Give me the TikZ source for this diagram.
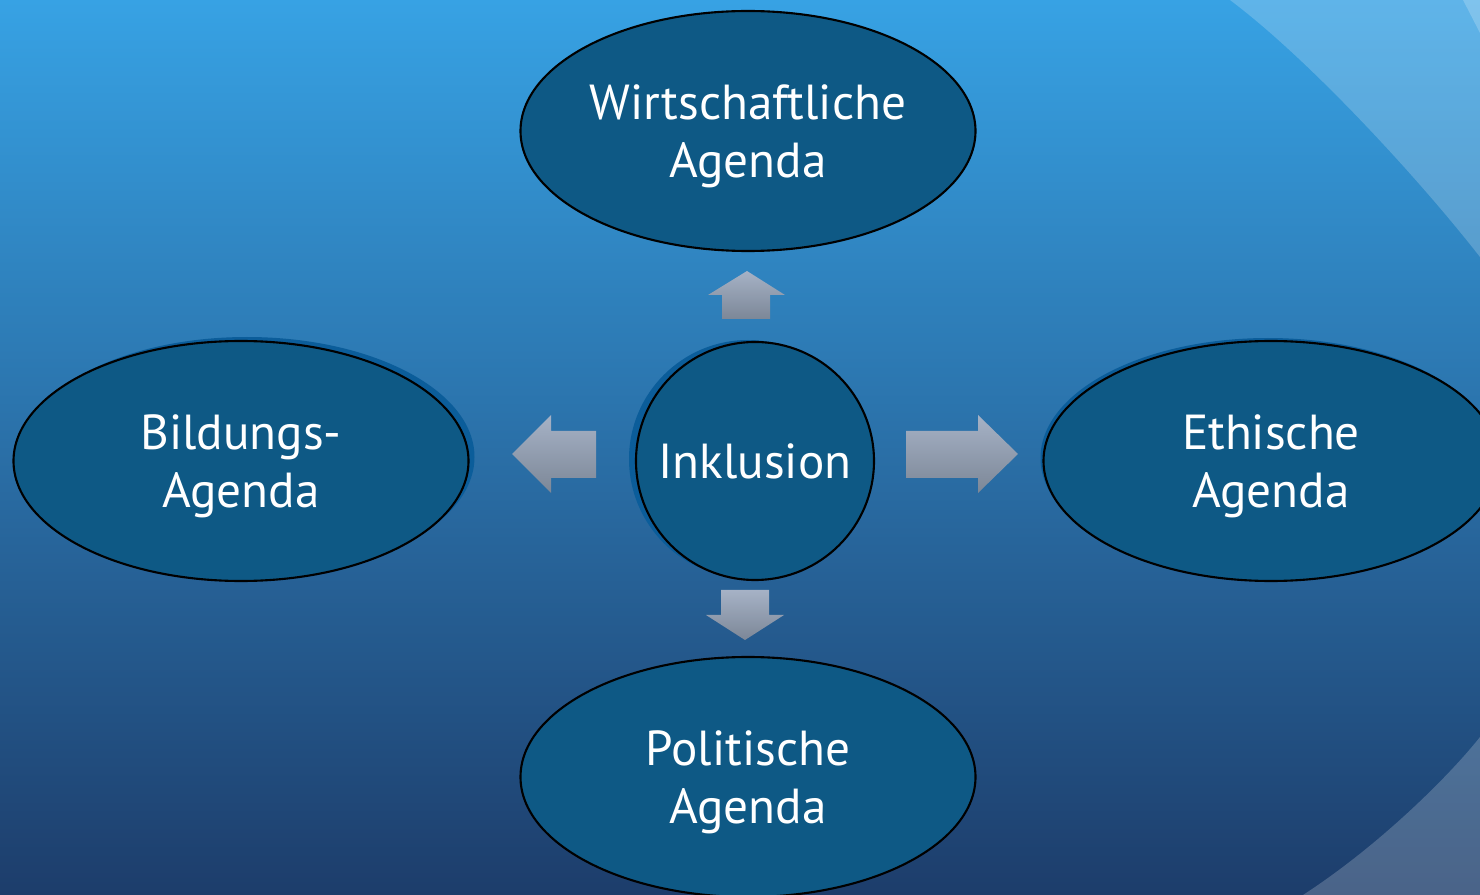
\documentclass[tikz,border=0pt]{standalone}
\usepackage{fontspec}
\setmainfont{PT Sans}
\usetikzlibrary{shapes.geometric,shadows}

\definecolor{bgtop}{HTML}{37A2E4}
\definecolor{bgmid}{HTML}{2B74AE}
\definecolor{bgbot}{HTML}{1D3D6B}
\definecolor{nodeblue}{HTML}{0E5985}
\definecolor{shadeblue}{HTML}{0B5D9A}
\definecolor{arrtop}{HTML}{A6B2C6}
\definecolor{arrbot}{HTML}{7C8797}

\begin{document}
\begin{tikzpicture}[node distance = {51.5mm},
	agenda/.style = {draw, ellipse, line width=0.6pt, fill=nodeblue, text=white, align=center,
		minimum width=4.55cm, minimum height=2.4cm, inner sep=0pt, text depth=0pt,
		font=\fontsize{14}{16.5}\selectfont},
	hub/.style = {draw, circle, line width=0.6pt, fill=nodeblue, text=white,
		minimum size=2.38cm, inner sep=0pt, font=\fontsize{14}{16.5}\selectfont},
	blockarr/.style = {top color=arrtop, bottom color=arrbot}]
	\useasboundingbox (0,0) rectangle (14.8,-8.95);
	% background
	\shade[top color=bgtop, middle color=bgmid, bottom color=bgbot] (0,0) rectangle (14.8,-8.95);
	\fill[white, opacity=0.2] (12.3,0) .. controls (13.1,-0.6) and (14.2,-1.8) .. (14.8,-2.57) -- (14.8,0) -- cycle;
	\fill[white, opacity=0.2] (14.63,0) -- (14.8,-0.33) -- (14.8,0) -- cycle;
	\fill[white, opacity=0.2] (14.8,-7.37) .. controls (14.5,-7.75) and (13.8,-8.45) .. (13.03,-8.95) -- (14.8,-8.95) -- cycle;

	\node[hub, drop shadow={shadow xshift=-0.07cm, shadow yshift=0.02cm, fill=shadeblue, opacity=1}] (inkl) at (7.55,-4.61) {Inklusion};
	\node[agenda] (wi) [above of=inkl, node distance=33mm, xshift=-0.07cm] {Wirtschaftliche\\Agenda};
	\node[agenda, drop shadow={shadow xshift=0.06cm, shadow yshift=0.04cm, fill=shadeblue, opacity=1}] (bi) [left of=inkl, node distance=51.4mm] {Bildungs-\\Agenda};
	\node[agenda, drop shadow={shadow xshift=-0.03cm, shadow yshift=0.03cm, fill=shadeblue, opacity=1}] (et) [right of=inkl, node distance=51.6mm] {Ethische\\Agenda};
	\node[agenda] (po) [below of=inkl, node distance=31.6mm, xshift=-0.07cm] {Politische\\Agenda};

	% block arrows
	\shade[blockarr] (7.22,-3.19) -- (7.22,-2.95) -- (7.08,-2.95) -- (7.47,-2.71) -- (7.85,-2.95) -- (7.70,-2.95) -- (7.70,-3.19) -- cycle;
	\shade[blockarr] (9.06,-4.31) -- (9.78,-4.31) -- (9.78,-4.15) -- (10.18,-4.54) -- (9.78,-4.93) -- (9.78,-4.78) -- (9.06,-4.78) -- cycle;
	\shade[blockarr] (5.96,-4.31) -- (5.51,-4.31) -- (5.51,-4.15) -- (5.12,-4.54) -- (5.51,-4.93) -- (5.51,-4.78) -- (5.96,-4.78) -- cycle;
	\shade[blockarr] (7.21,-5.90) -- (7.69,-5.90) -- (7.69,-6.15) -- (7.84,-6.15) -- (7.45,-6.40) -- (7.06,-6.15) -- (7.21,-6.15) -- cycle;
\end{tikzpicture}
\end{document}
